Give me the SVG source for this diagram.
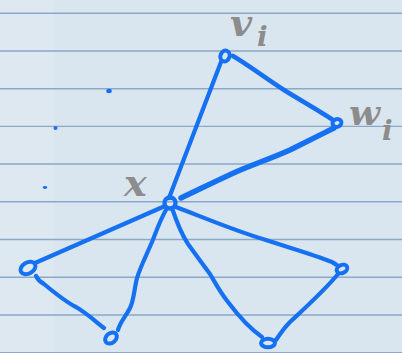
<svg xmlns="http://www.w3.org/2000/svg" width="402" height="353" viewBox="0 0 402 353">
<style>
.rule{stroke:#8aa8c8;stroke-width:1.4}
.e{fill:none;stroke:#1570f2;stroke-width:4.2;stroke-linecap:round;stroke-linejoin:round}
.n{fill:none;stroke:#1570f2;stroke-width:4}
.lbl{font-family:"DejaVu Serif","Liberation Serif",serif;font-style:italic;font-weight:bold;fill:#8c8c8c}
.dot{fill:#1570f2}
</style>
<rect width="402" height="353" fill="#dae6ef"/>
<rect width="54" height="353" fill="#dde8f0"/>
<g id="rules">
<line class="rule" x1="0" y1="13.3" x2="402" y2="13.3"/>
<line class="rule" x1="0" y1="51" x2="402" y2="51"/>
<line class="rule" x1="0" y1="88.7" x2="402" y2="88.7"/>
<line class="rule" x1="0" y1="126.4" x2="402" y2="126.4"/>
<line class="rule" x1="0" y1="164" x2="402" y2="164"/>
<line class="rule" x1="0" y1="201.8" x2="402" y2="201.8"/>
<line class="rule" x1="0" y1="239.5" x2="402" y2="239.5"/>
<line class="rule" x1="0" y1="277.2" x2="402" y2="277.2"/>
<line class="rule" x1="0" y1="315" x2="402" y2="315"/>
<line class="rule" x1="0" y1="352.6" x2="402" y2="352.6"/>
</g>
<g id="dots">
<ellipse class="dot" cx="109" cy="91" rx="2.8" ry="2.2"/>
<circle class="dot" cx="55.5" cy="128" r="2"/>
<ellipse class="dot" cx="45" cy="187.5" rx="2.2" ry="1.4"/>
</g>
<g id="connectors">
<path class="e" d="M221,62 L169,198"/>
<path class="e" d="M233,56 C250,66 265,78 284,90 C300,100 318,110 333,120" style="stroke-width:4.6"/>
<path class="e" d="M334,128 C318,136 300,145 290,150 C272,158 252,165 238,171 C218,180 198,190 181,198" style="stroke-width:5.5"/>
<path class="e" d="M165,206 L35,263"/>
<path class="e" d="M36,276 C38,280 40,282 44,284 C56,294 68,303 76,307 C88,314 96,322 104,328"/>
<path class="e" d="M167,208 C160,220 156,232 152,242 C146,256 140,268 137,278 C134,290 134,300 130,308 C126,316 120,322 118,330"/>
<path class="e" d="M172,208 C176,220 180,232 188,244 C196,255 204,266 210,274 C216,284 220,292 228,302 C240,318 252,330 262,337"/>
<path class="e" d="M176,207 C205,218 235,231 266,240 C290,248 312,254 332,262 C335,264 337,265 338,266"/>
<path class="e" d="M338,274 C325,290 305,308 290,322 C284,328 280,334 276,340"/>
</g>
<g id="node-vi"><ellipse class="n" cx="225" cy="56" rx="4.5" ry="5.5" transform="rotate(20 225 56)"/></g>
<g id="node-wi"><ellipse class="n" cx="337" cy="123" rx="4.5" ry="3.8" transform="rotate(-20 337 123)"/></g>
<g id="node-x"><circle class="n" cx="170" cy="203" r="5.5" style="stroke-width:4.4"/></g>
<g id="node-l1"><ellipse class="n" cx="28" cy="268" rx="8" ry="5.5" transform="rotate(-30 28 268)"/></g>
<g id="node-l2"><ellipse class="n" cx="111" cy="338" rx="6.5" ry="4.8" transform="rotate(-40 111 338)"/></g>
<g id="node-r2"><ellipse class="n" cx="268" cy="343" rx="7" ry="4.2"/></g>
<g id="node-r1"><ellipse class="n" cx="342" cy="269" rx="5.5" ry="4" transform="rotate(-25 342 269)"/></g>
<g id="labels">
<text class="lbl" x="230" y="36" font-size="38">v</text>
<text class="lbl" x="257" y="46" font-size="28">i</text>
<text class="lbl" x="349" y="125" font-size="36">w</text>
<text class="lbl" x="382" y="140" font-size="28">i</text>
<text class="lbl" x="124" y="196" font-size="38">x</text>
</g>
</svg>
